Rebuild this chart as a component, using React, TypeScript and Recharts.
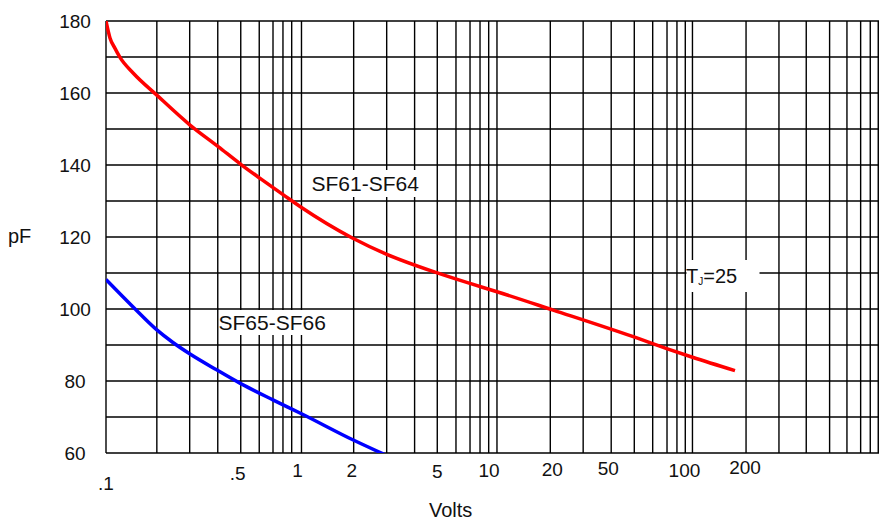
import React from 'react';
import { LineChart, Line, XAxis, YAxis, CartesianGrid } from 'recharts';

// capacitance vs reverse voltage
const sf61Volts = [0.1, 0.1048, 0.1112, 0.1179, 0.138, 0.182, 0.269, 0.375, 0.489, 0.614, 0.808, 1, 1.81, 2.73, 4.91, 7.28, 10, 19.4, 49.8, 73.8, 100, 165];
const sf61Pf = [180, 175.3, 172.4, 169.9, 165.5, 159.4, 151.1, 145.1, 140.2, 136.3, 131.7, 128.2, 119.8, 115.2, 110.1, 107.1, 104.8, 99.7, 92.3, 89.0, 86.6, 82.9];

const sf65Volts = [0.1, 0.138, 0.182, 0.22, 0.269, 0.368, 0.484, 0.718, 1, 1.84, 2.68];
const sf65Pf = [108.2, 100.5, 94.2, 90.7, 87.5, 83.1, 79.4, 74.7, 70.9, 63.6, 59.5];

// the printed grid is not a true log grid: lines as measured off the sheet
const xGridTicks = [
  0.1, 0.182, 0.268, 0.373, 0.489, 0.608, 0.715, 0.804, 0.891,
  1, 1.849, 2.728, 3.79, 4.95, 6.17, 7.28, 8.19, 9.07,
  10, 18.74, 27.6, 38.4, 50.4, 62.6, 74.1, 83.3, 91.9,
  100, 188, 277, 382, 503, 617, 725, 812, 892,
];
const xLabelTicks = [0.1, 0.489, 1, 1.849, 4.95, 10, 18.74, 50.4, 100, 188];
const xLabelText = ['.1', '.5', '1', '2', '5', '10', '20', '50', '100', '200'];

const yGridTicks = [60, 70, 80, 90, 100, 110, 120, 130, 140, 150, 160, 170, 180];
const yLabelTicks = [60, 80, 100, 120, 140, 160, 180];

const sf61Data = sf61Volts.map((v, i) => ({ v, pf: sf61Pf[i] }));
const sf65Data = sf65Volts.map((v, i) => ({ v, pf: sf65Pf[i] }));

// the datasheet labels sit a little off their grid lines
const xLabelNudge: Record<string, [number, number]> = {
  '.1': [0, 28],
  '.5': [-3, 18],
  '1': [-4, 15],
  '2': [-2, 15],
  '5': [0, 16],
  '10': [-8, 15],
  '20': [2, 14],
  '50': [-26, 13],
  '100': [-8, 15],
  '200': [-1, 12],
};

const FONT = "'Liberation Sans', Arial, sans-serif";

const XTick = (props: any) => {
  const { x, y, payload } = props;
  const idx = xLabelTicks.indexOf(payload.value);
  if (idx < 0) return null;
  const label = xLabelText[idx];
  const [dx, dy] = xLabelNudge[label];
  return (
    <text x={x + dx} y={y + dy + 7} textAnchor="middle" fontSize={19} fontFamily={FONT} fill="#111">
      {label}
    </text>
  );
};

const YTick = (props: any) => {
  const { y, payload } = props;
  if (!yLabelTicks.includes(payload.value)) return null;
  return (
    <text x={75} y={y + 7} textAnchor="middle" fontSize={19} fontFamily={FONT} fill="#111">
      {payload.value}
    </text>
  );
};

export default function App() {
  return (
    <div style={{ position: 'absolute', left: 0, top: 0, width: 879, height: 523, background: '#fff' }}>
      <LineChart width={879} height={523} margin={{ top: 21, right: 0, left: 0, bottom: 0 }}>
        <CartesianGrid stroke="#000" strokeWidth={1.4} />
        <XAxis
          type="number"
          dataKey="v"
          scale="log"
          domain={[0.1, 900]}
          ticks={xGridTicks}
          interval={0}
          allowDataOverflow
          axisLine={false}
          tickLine={false}
          tickSize={0}
          height={70}
          tick={<XTick />}
        />
        <YAxis
          type="number"
          domain={[60, 180]}
          ticks={yGridTicks}
          interval={0}
          allowDataOverflow
          axisLine={false}
          tickLine={false}
          tickSize={0}
          width={106}
          tick={<YTick />}
        />
        <Line
          data={sf61Data}
          dataKey="pf"
          type="monotone"
          stroke="#ff0000"
          strokeWidth={3.5}
          dot={false}
          isAnimationActive={false}
        />
        <Line
          data={sf65Data}
          dataKey="pf"
          type="monotone"
          stroke="#0000ff"
          strokeWidth={3.5}
          dot={false}
          isAnimationActive={false}
        />
      </LineChart>
      <svg
        width={879}
        height={523}
        style={{ position: 'absolute', left: 0, top: 0, pointerEvents: 'none' }}
        fontFamily={FONT}
      >
        <rect x={305} y={170} width={115} height={27} fill="#fff" />
        <text x={311.5} y={190.7} fontSize={21} fill="#111">SF61-SF64</text>
        <rect x={219} y={310} width={107} height={25} fill="#fff" />
        <text x={218.5} y={330} fontSize={21} fill="#111">SF65-SF66</text>
        <rect x={686.5} y={260} width={73} height={32} fill="#fff" />
        <text x={686} y={283.3} fontSize={20} fill="#111">
          T<tspan fontSize={10} dy={2}>J</tspan>
          <tspan dy={-2}>=25</tspan>
        </text>
        <text x={8} y={243} fontSize={20} fill="#111">pF</text>
        <text x={429} y={516.5} fontSize={20} fill="#111">Volts</text>
      </svg>
    </div>
  );
}
